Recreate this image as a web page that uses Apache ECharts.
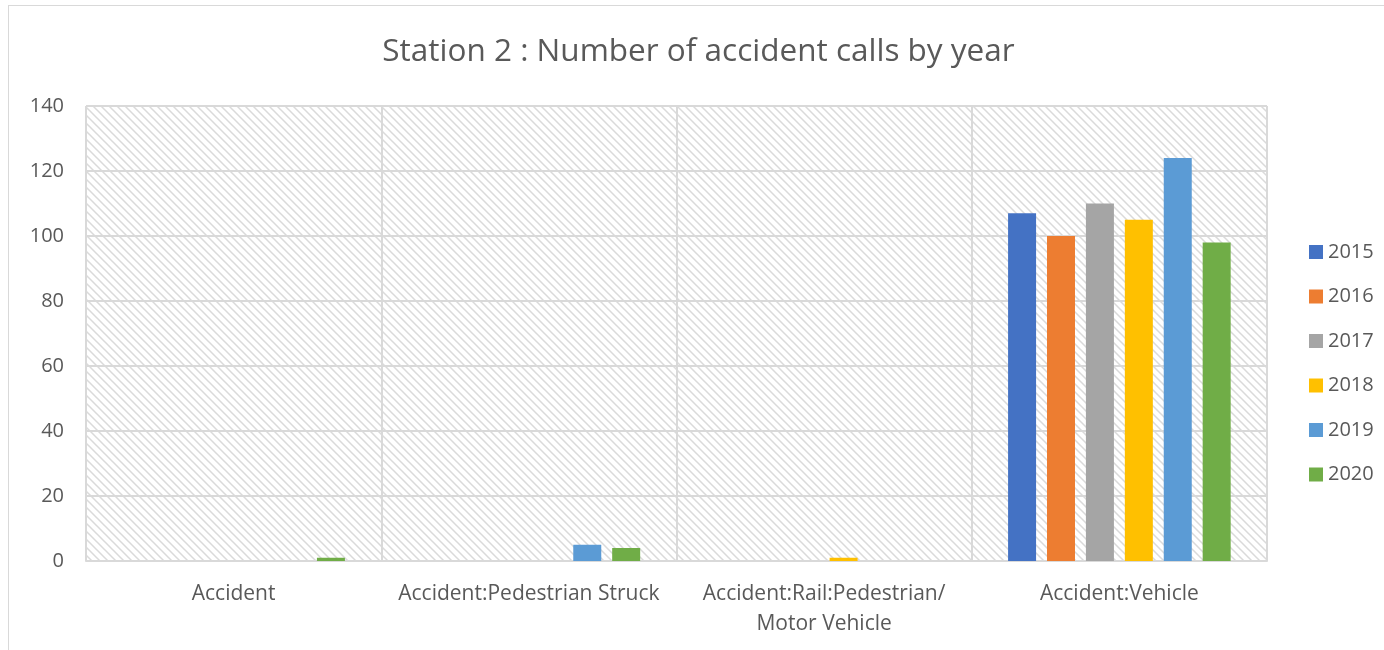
<!DOCTYPE html>
<html>
<head>
<meta charset="utf-8">
<script src="https://cdn.jsdelivr.net/npm/echarts@6/dist/echarts.min.js"></script>
<style>
    html, body { margin: 0; padding: 0; background: #fff; }
    #chart { position: absolute; left: 8px; top: 5px; width: 1380px; height: 645px; border-left: 1px solid #d9d9d9; border-top: 1px solid #d9d9d9; box-sizing: border-box; }
</style>
</head>
<body>
<div id="chart"></div>
<script>
const categories = ['Accident', 'Accident:Pedestrian Struck', 'Accident:Rail:Pedestrian/\nMotor Vehicle', 'Accident:Vehicle']
const years = ['2015', '2016', '2017', '2018', '2019', '2020']
const yearColors = ['#4472c4', '#ed7d31', '#a5a5a5', '#ffc000', '#5b9bd5', '#70ad47']
const values2015 = [0, 0, 0, 107]
const values2016 = [0, 0, 0, 100]
const values2017 = [0, 0, 0, 110]
const values2018 = [0, 0, 1, 105]
const values2019 = [0, 5, 0, 124]
const values2020 = [1, 4, 0, 98]
const allValues = [values2015, values2016, values2017, values2018, values2019, values2020]

// hatch pattern for the plot area
const makeHatch = () => {
    const c = document.createElement('canvas')
    c.width = 8
    c.height = 8
    const ctx = c.getContext('2d')
    ctx.fillStyle = '#ffffff'
    ctx.fillRect(0, 0, 8, 8)
    ctx.strokeStyle = '#dadada'
    ctx.lineWidth = 1.5
    ctx.beginPath()
    ctx.moveTo(-2, -2)
    ctx.lineTo(10, 10)
    ctx.moveTo(-2, 6)
    ctx.lineTo(2, 10)
    ctx.moveTo(6, -2)
    ctx.lineTo(10, 2)
    ctx.stroke()
    return c
}

const chart = echarts.init(document.getElementById('chart'))
const textColor = '#595959'
const fontFamily = 'Open Sans, Lato, sans-serif'

const option = {
    animation: false,
    title: {
        text: 'Station 2 : Number of accident calls by year',
        left: 'center',
        top: 25,
        textStyle: { color: textColor, fontSize: 31.5, fontWeight: 'normal', fontFamily: fontFamily }
    },
    legend: {
        orient: 'vertical',
        left: 1295,
        top: 231,
        itemWidth: 14,
        itemHeight: 14,
        itemGap: 24.5,
        icon: 'rect',
        textStyle: { color: textColor, fontSize: 20, fontFamily: fontFamily },
        data: years
    },
    grid: {
        left: 77,
        right: 121,
        top: 100,
        bottom: 89,
        show: true,
        borderWidth: 0,
        backgroundColor: { image: makeHatch(), repeat: 'repeat' }
    },
    xAxis: {
        type: 'category',
        data: categories,
        axisTick: { show: false },
        axisLine: { lineStyle: { color: '#d9d9d9', width: 2 } },
        splitLine: { show: true, lineStyle: { color: '#d9d9d9', width: 2 } },
        axisLabel: { color: textColor, fontSize: 21, fontFamily: fontFamily, margin: 18, lineHeight: 30, interval: 0 }
    },
    yAxis: {
        type: 'value',
        min: 0,
        max: 140,
        interval: 20,
        axisLine: { show: false },
        axisTick: { show: false },
        splitLine: { lineStyle: { color: '#d9d9d9', width: 2 } },
        axisLabel: { color: textColor, fontSize: 20, fontFamily: fontFamily, margin: 22 }
    },
    series: years.map((y, i) => ({
        name: y,
        type: 'bar',
        data: allValues[i],
        barWidth: 28,
        barGap: '39%',
        itemStyle: { color: yearColors[i] }
    }))
}
chart.setOption(option)
</script>
</body>
</html>
